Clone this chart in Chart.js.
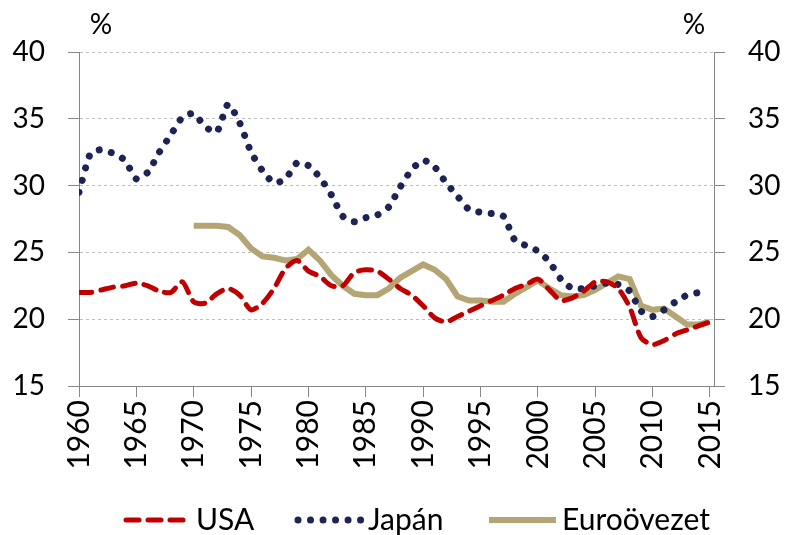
<!DOCTYPE html>
<html>
<head>
<meta charset="utf-8">
<script src="https://cdn.jsdelivr.net/npm/chart.js@4.4.0/dist/chart.umd.min.js"></script>
<style>
  html, body { margin: 0; padding: 0; background: #fff; }
  #wrap { width: 785px; height: 535px; }
</style>
</head>
<body>
<div id="wrap"><canvas id="chart" width="785" height="535"></canvas></div>
<script>
// years on the x axis
const years = [1960, 1961, 1962, 1963, 1964, 1965, 1966, 1967, 1968, 1969,
  1970, 1971, 1972, 1973, 1974, 1975, 1976, 1977, 1978, 1979,
  1980, 1981, 1982, 1983, 1984, 1985, 1986, 1987, 1988, 1989,
  1990, 1991, 1992, 1993, 1994, 1995, 1996, 1997, 1998, 1999,
  2000, 2001, 2002, 2003, 2004, 2005, 2006, 2007, 2008, 2009,
  2010, 2011, 2012, 2013, 2014, 2015];

const usa = [22.0, 22.0, 22.2, 22.4, 22.5, 22.7, 22.5, 22.1, 22.0, 22.8,
  21.3, 21.2, 21.9, 22.3, 21.8, 20.7, 21.2, 22.3, 23.8, 24.4,
  23.6, 23.2, 22.5, 22.5, 23.5, 23.7, 23.6, 23.0, 22.3, 21.8,
  21.0, 20.1, 19.8, 20.2, 20.6, 21.0, 21.4, 21.8, 22.3, 22.6,
  23.0, 22.2, 21.4, 21.6, 22.1, 22.8, 22.8, 22.3, 20.9, 18.6,
  18.1, 18.4, 18.9, 19.2, 19.5, 19.8];

const japan = [29.5, 32.4, 32.7, 32.4, 31.9, 30.5, 31.0, 32.5, 33.8, 35.1,
  35.4, 34.4, 34.0, 36.1, 34.7, 32.5, 31.1, 30.2, 30.5, 31.7,
  31.5, 30.6, 29.3, 27.7, 27.3, 27.6, 27.8, 28.4, 29.9, 31.2,
  31.9, 31.4, 30.2, 29.2, 28.2, 28.0, 27.9, 27.7, 25.9, 25.5,
  25.1, 24.3, 23.0, 22.3, 22.3, 22.5, 22.7, 22.6, 22.1, 20.6,
  20.2, 20.7, 21.3, 21.8, 22.0, null];

const euro = [null, null, null, null, null, null, null, null, null, null,
  27.0, 27.0, 27.0, 26.9, 26.3, 25.3, 24.7, 24.6, 24.4, 24.5,
  25.2, 24.4, 23.3, 22.5, 21.9, 21.8, 21.8, 22.3, 23.1, 23.6,
  24.1, 23.7, 23.0, 21.7, 21.4, 21.4, 21.3, 21.3, 21.9, 22.4,
  22.9, 22.3, 21.8, 21.7, 21.8, 22.2, 22.7, 23.2, 23.0, 21.0,
  20.7, 20.8, 20.2, 19.6, 19.6, 19.8];

const xTicks = [1960, 1965, 1970, 1975, 1980, 1985, 1990, 1995, 2000, 2005, 2010, 2015];
const yTicks = [15, 20, 25, 30, 35, 40];

const FONT = 'Lato, Carlito, "Liberation Sans", sans-serif';
const axisGrey = '#868686';

const pts = arr => years.map((y, i) => ({ x: y, y: arr[i] }));

const percentLabels = {
  id: 'percentLabels',
  afterDraw(chart) {
    const ctx = chart.ctx;
    ctx.save();
    ctx.font = '28px ' + FONT;
    ctx.fillStyle = '#000';
    ctx.textAlign = 'center';
    ctx.textBaseline = 'middle';
    ctx.fillText('%', 101, 25);
    ctx.fillText('%', 694, 25);
    ctx.restore();
  }
};

// legend drawn by hand so the dash patterns show in the samples
const legendX = [123, 295, 489];
const lineLegend = {
  id: 'lineLegend',
  afterDraw(chart) {
    const ctx = chart.ctx;
    const y = 520;
    ctx.save();
    ctx.font = '30px ' + FONT;
    ctx.textBaseline = 'middle';
    ctx.textAlign = 'left';
    chart.data.datasets.forEach((ds, i) => {
      const x0 = legendX[i];
      ctx.beginPath();
      ctx.strokeStyle = ds.borderColor;
      ctx.lineWidth = ds.borderWidth;
      ctx.lineCap = ds.borderCapStyle || 'butt';
      ctx.setLineDash(ds.borderDash || []);
      ctx.moveTo(x0 + (ds.borderCapStyle === 'round' ? 3 : 0), y);
      ctx.lineTo(x0 + 67, y);
      ctx.stroke();
      ctx.setLineDash([]);
      ctx.fillStyle = '#000';
      ctx.fillText(ds.label, x0 + 73, y);
    });
    ctx.restore();
  }
};

new Chart(document.getElementById('chart'), {
  type: 'line',
  data: {
    datasets: [
      {
        label: 'USA',
        data: pts(usa),
        borderColor: '#C00000',
        backgroundColor: '#C00000',
        borderWidth: 5,
        borderDash: [13, 9],
        borderCapStyle: 'round',
        tension: 0.25,
        pointRadius: 0
      },
      {
        label: 'Japán',
        data: pts(japan),
        borderColor: '#1D2454',
        backgroundColor: '#1D2454',
        borderWidth: 7,
        borderDash: [0.01, 12.5],
        borderCapStyle: 'round',
        tension: 0.2,
        pointRadius: 0
      },
      {
        label: 'Euroövezet',
        data: pts(euro),
        borderColor: '#B3A574',
        backgroundColor: '#B3A574',
        borderWidth: 6,
        borderCapStyle: 'butt',
        tension: 0,
        pointRadius: 0
      }
    ]
  },
  options: {
    responsive: false,
    animation: false,
    devicePixelRatio: 1,
    layout: { padding: { top: 52, left: 0, right: 0, bottom: 0 } },
    plugins: {
      tooltip: { enabled: false },
      legend: { display: false }
    },
    scales: {
      x: {
        type: 'linear',
        min: 1960,
        max: 2015.35,
        afterBuildTicks: s => { s.ticks = xTicks.map(v => ({ value: v })); },
        afterFit: s => { s.height = 149; },
        ticks: {
          autoSkip: false,
          minRotation: 90,
          maxRotation: 90,
          padding: 3,
          color: '#000',
          font: { size: 30, family: FONT },
          callback: v => String(v)
        },
        grid: { drawOnChartArea: false, tickLength: 11, tickColor: axisGrey },
        border: { color: axisGrey }
      },
      y: {
        position: 'left',
        min: 15,
        max: 40,
        afterBuildTicks: s => { s.ticks = yTicks.map(v => ({ value: v })); },
        afterFit: s => { s.width = 79; },
        ticks: { padding: 23, color: '#000', font: { size: 28, family: FONT } },
        grid: { color: '#BDBDBD', tickColor: axisGrey, tickLength: 11 },
        border: { color: axisGrey, dash: [3, 3] }
      },
      y2: {
        position: 'right',
        min: 15,
        max: 40,
        afterBuildTicks: s => { s.ticks = yTicks.map(v => ({ value: v })); },
        afterFit: s => { s.width = 71; },
        ticks: { padding: 23, color: '#000', font: { size: 28, family: FONT } },
        grid: { drawOnChartArea: false, tickColor: axisGrey, tickLength: 11 },
        border: { color: axisGrey }
      }
    }
  },
  plugins: [percentLabels, lineLegend]
});
</script>
</body>
</html>
